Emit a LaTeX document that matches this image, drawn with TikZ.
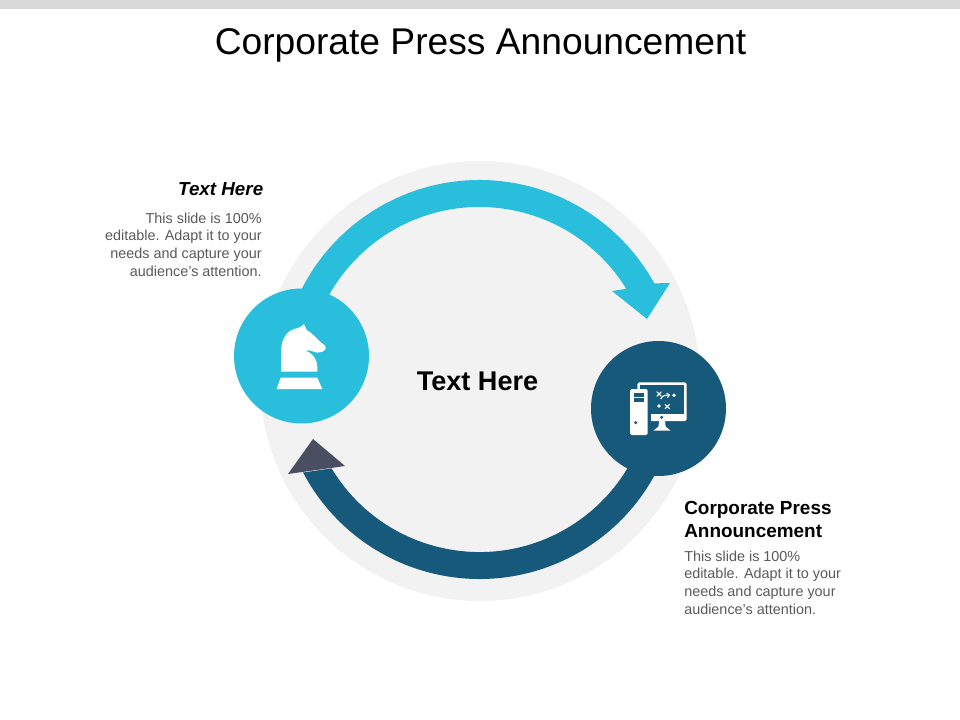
\documentclass[tikz,border=0pt]{standalone}
\usepackage{fontspec}
\setmainfont{Liberation Sans}
\usetikzlibrary{calc}
\definecolor{cyanb}{HTML}{29BFDC}
\definecolor{navyb}{HTML}{17597A}
\definecolor{headd}{HTML}{4A4E62}
\definecolor{ringg}{HTML}{F2F2F2}
\definecolor{barg}{HTML}{D9D9D9}
\definecolor{bodyg}{HTML}{595959}
\tikzset{
  bodytext/.style={inner sep=0pt,text=bodyg,font=\fontsize{10.8}{13.2}\selectfont},
  headtext/.style={inner sep=0pt,text=black,font=\fontsize{14.2}{17.25}\selectfont\bfseries},
  bigcircle/.style={circle,inner sep=0pt,minimum size=101.25pt},
  iconpart/.style={fill=white,draw=none},
  icongap/.style={fill=navyb,draw=none},
}
\begin{document}
\begin{tikzpicture}[x=0.75pt,y=-0.75pt]
\useasboundingbox (0,0) rectangle (960,720);
\fill[barg] (0,0) rectangle (960,9);
\node[inner sep=0pt,font=\fontsize{27.9}{32}\selectfont] (title) at (480.5,45) {Corporate Press Announcement};
\coordinate (bgc) at (480,381);
\coordinate (c) at (479.5,379.5);
\fill[ringg] (bgc) circle[radius=165pt];
% upper arrow
\fill[cyanb] ($(c)+(165:149.6pt)$) arc[start angle=165,end angle=28.8,radius=149.6pt]
  -- (670,283) -- (647,319) -- (612,291) -- ($(c)+(31.7:129.4pt)$)
  arc[start angle=31.7,end angle=165,radius=129.4pt] -- cycle;
% lower arrow
\fill[navyb] ($(c)+(345:149.6pt)$) arc[start angle=345,end angle=207.8,radius=149.6pt]
  -- ($(c)+(211:129.4pt)$) arc[start angle=211,end angle=345,radius=129.4pt] -- cycle;
\fill[headd] (313,439) -- (345,466) -- (288,474) -- cycle;
\node[bigcircle,fill=cyanb] (knight) at (301.5,356) {};
\node[bigcircle,fill=navyb] (screen) at (658.5,408.5) {};
% knight icon
\begin{scope}[shift={(230,280)},x=0.25pt,y=-0.25pt]
  \fill[iconpart] (140,327) -- (152,293) -- (262,293) -- (277,327) -- cycle;
  \fill[iconpart] (153,275) -- (153,215) .. controls (153,185) and (165,160) .. (185,150)
    .. controls (200,143) and (212,145) .. (222,132) -- (230,150)
    .. controls (245,158) and (260,175) .. (270,185) -- (285,197)
    .. controls (290,205) and (285,213) .. (278,215) -- (262,218)
    .. controls (252,218) and (245,208) .. (225,212)
    .. controls (248,218) and (262,238) .. (262,262) -- (262,275) -- cycle;
\end{scope}
% computer icon
\begin{scope}[shift={(610,365)},x=0.25pt,y=-0.25pt]
  \fill[iconpart,rounded corners=1.2pt] (82,52) -- (230,52) -- (230,168) -- (123,168) -- (123,148) -- (82,72) -- cycle;
  \fill[icongap] (90,60) rectangle (222,148);
  \fill[iconpart,rounded corners=1.2pt] (60,72) rectangle (113,210);
  \fill[icongap] (113,72) rectangle (123,168);
  \fill[iconpart] (123,148) rectangle (132,168);
  \fill[icongap] (72,83) rectangle (103,95);
  \fill[icongap] (72,100) rectangle (103,112);
  \fill[icongap] (77,173) circle[radius=1.25pt];
  \fill[icongap] (155,157) circle[radius=1.25pt];
  \fill[iconpart] (148,168) -- (165,168) -- (167,185) -- (182,197) -- (130,197) -- (145,185) -- cycle;
  \draw[white,line width=0.8pt] (140,80) -- (154,94) (154,80) -- (140,94);
  \draw[white,line width=0.8pt] (165,118) -- (179,131) (179,118) -- (165,131);
  \draw[white,line width=0.8pt] (152,102) .. controls (157,92) and (165,90) .. (177,90);
  \draw[white,line width=0.8pt] (170,84) -- (178,90) -- (172,98);
  \fill[iconpart] (192,91) circle[radius=1.4pt];
  \fill[iconpart] (147,123) circle[radius=1.4pt];
\end{scope}
% texts
\node[inner sep=0pt,font=\fontsize{20.3}{24}\selectfont\bfseries] (mid) at (477.5,381) {Text Here};
\node[headtext,font=\fontsize{14.1}{17}\selectfont\bfseries\itshape,anchor=east] (lh) at (263.5,189.5) {Text Here};
\node[bodytext,align=right,anchor=north east] (lb) at (262,212.5) {This slide is 100\%\\editable. Adapt it to your\\needs and capture your\\audience's attention.};
\node[headtext,align=left,anchor=north west] (rh) at (684,501) {Corporate Press\\Announcement};
\node[bodytext,align=left,anchor=north west] (rb) at (684,550.5) {This slide is 100\%\\editable. Adapt it to your\\needs and capture your\\audience's attention.};
\end{tikzpicture}
\end{document}
